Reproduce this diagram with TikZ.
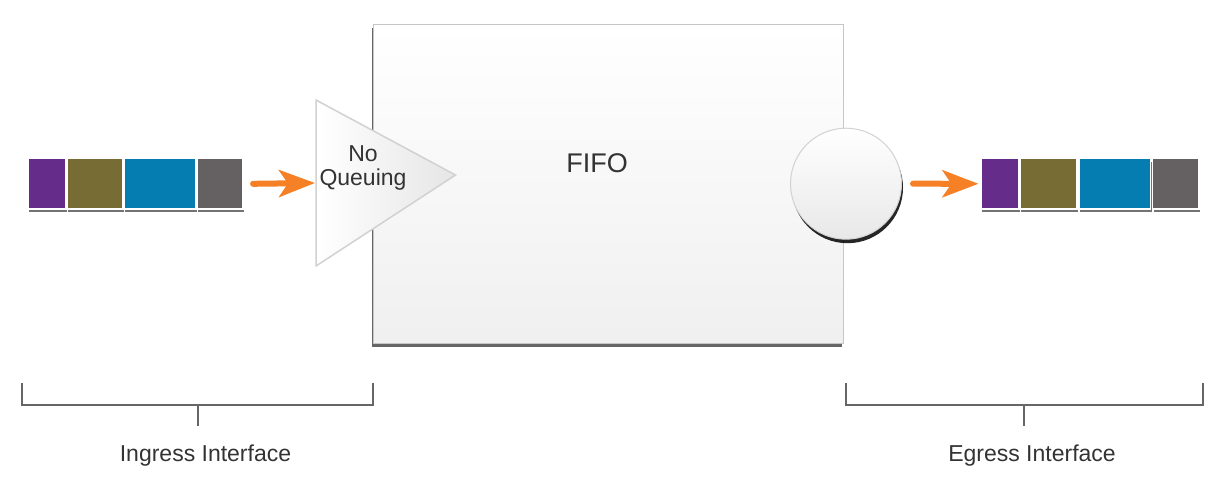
\documentclass[tikz,border=0pt]{standalone}
\usepackage{fontspec}
\setmainfont{Liberation Sans}
\usetikzlibrary{arrows.meta,shadows}
\definecolor{pkpurple}{HTML}{652C8A}
\definecolor{pkolive}{HTML}{786C35}
\definecolor{pkblue}{HTML}{067DB0}
\definecolor{pkgray}{HTML}{656163}
\definecolor{arrorange}{HTML}{F58025}
\definecolor{txtgray}{HTML}{333333}
\definecolor{brgray}{HTML}{666666}
\tikzset{
  packet/.style={draw=white, line width=1.5pt, minimum height=50.5pt, inner sep=0pt, outer sep=0pt,
    drop shadow={shadow xshift=1pt, shadow yshift=-3pt, fill=black, opacity=0.55}},
  orangearrow/.style={draw=arrorange, line width=6pt, line cap=round,
    -{Stealth[length=36pt, width=27pt, inset=9pt]}},
  bracketline/.style={draw=brgray, line width=2pt},
  lbl/.style={text=txtgray, font=\fontsize{23}{25}\selectfont, inner sep=0pt, anchor=base},
  fifobox/.style={draw=gray!45, line width=0.8pt, top color=white, bottom color=black!6,
    middle color=white!97!black, minimum width=470pt, minimum height=319pt, inner sep=0pt,
    drop shadow={shadow xshift=-1.8pt, shadow yshift=-3.5pt, fill=black!75, opacity=0.8}},
  portcircle/.style={circle, draw=gray!35, line width=1pt, top color=white, bottom color=black!9,
    minimum size=111pt, inner sep=0pt,
    drop shadow={shadow xshift=1.5pt, shadow yshift=-4pt, fill=black, opacity=0.85}},
}
\begin{document}
\begin{tikzpicture}[x=1pt, y=-1pt]
\useasboundingbox (0,0) rectangle (1222,483);
% main box
\node[fifobox] (fifo) at (608.3,183.7) {};
\node[lbl, font=\fontsize{27}{29}\selectfont] (fifolbl) at (597,172.3) {FIFO};
% no-queuing triangle
\path[draw=black!18, line width=1.5pt, left color=white, right color=black!10]
  (316,100) -- (455.5,175) -- (316,266) -- cycle;
\coordinate (triin) at (316,183);
\node[lbl] (no) at (363,161.7) {No};
\node[lbl] (queuing) at (363,185) {Queuing};
% egress port circle
\node[portcircle] (port) at (846,183.7) {};
% ingress packets
\node[packet, fill=pkpurple, minimum width=37.8pt] (lp1) at (47.2,183.8) {};
\node[packet, fill=pkolive, minimum width=56.1pt] (lp2) at (95,183.8) {};
\node[packet, fill=pkblue, minimum width=71.8pt] (lp3) at (159.9,183.8) {};
\node[packet, fill=pkgray, minimum width=46.1pt] (lp4) at (220,183.8) {};
% egress packets
\node[packet, fill=pkpurple, minimum width=38.1pt] (rp1) at (1000,183.8) {};
\node[packet, fill=pkolive, minimum width=56.5pt] (rp2) at (1048.5,183.8) {};
\node[packet, fill=pkblue, minimum width=71.8pt] (rp3) at (1114.8,183.8) {};
\node[packet, fill=pkgray, minimum width=46.5pt] (rp4) at (1175.8,183.8) {};
% arrows
\draw[orangearrow] ([xshift=10pt]lp4.east) -- ([xshift=-1pt]triin);
\draw[orangearrow] ([xshift=11pt]port.east) -- ([xshift=-2.5pt]rp1.west);
% brackets
\draw[bracketline] (22,383) -- (22,405) -- (373,405) -- (373,383);
\draw[bracketline] (198.3,405) -- (198.3,426);
\draw[bracketline] (845.5,383) -- (845.5,405) -- (1202.5,405) -- (1202.5,383);
\draw[bracketline] (1024,405) -- (1024,426);
\node[lbl] (ingress) at (205.5,461.7) {Ingress Interface};
\node[lbl] (egress) at (1032,461.7) {Egress Interface};
\end{tikzpicture}
\end{document}
